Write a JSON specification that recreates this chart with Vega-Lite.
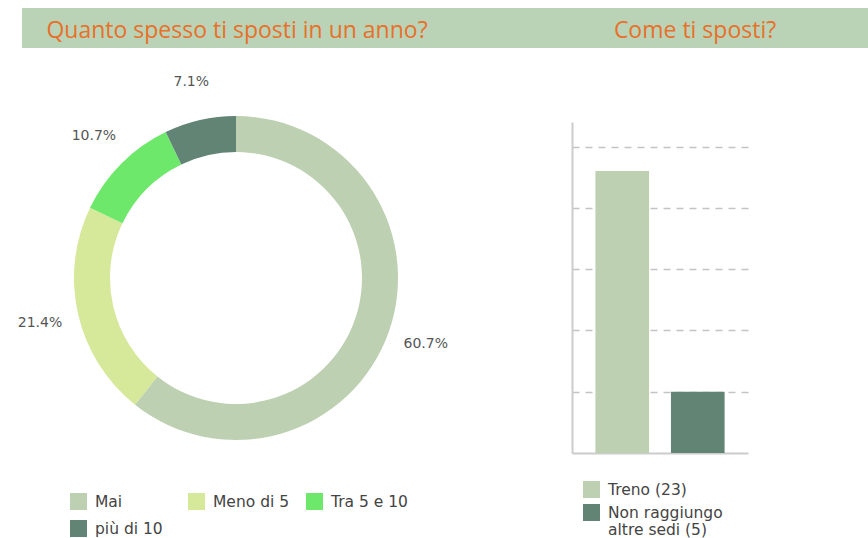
{
  "$schema": "https://vega.github.io/schema/vega-lite/v6.json",
  "padding": {"left": 17, "top": 8, "right": 0, "bottom": 0},
  "background": "white",
  "config": {
    "view": {"stroke": null},
    "font": "DejaVu Sans",
    "legend": {
      "symbolType": "square",
      "symbolSize": 289,
      "symbolStrokeWidth": 0,
      "symbolOpacity": 1,
      "labelFontSize": 15.5,
      "labelFont": "DejaVu Sans",
      "labelColor": "#444444",
      "labelOffset": 8,
      "title": null
    }
  },
  "spacing": 0,
  "vconcat": [
    {
      "width": 846,
      "height": 40,
      "view": {"fill": "#bad3b6", "stroke": null},
      "data": {"values": [
        {"title": "Quanto spesso ti sposti in un anno?"},
        {"title": "Come ti sposti?"}
      ]},
      "mark": {"type": "text", "fontSize": 23, "color": "#e8702a", "font": "Open Sans", "baseline": "middle", "dy": 3},
      "encoding": {
        "x": {"field": "title", "type": "nominal", "sort": null, "axis": null,
              "scale": {"type": "point", "padding": 0, "domain": ["Quanto spesso ti sposti in un anno?", "Come ti sposti?"], "range": [215, 673]}},
        "text": {"field": "title"}
      }
    },
    {
      "spacing": 122,
      "resolve": {"scale": {"color": "independent"}, "legend": {"color": "independent"}},
      "hconcat": [
        {
          "width": 428,
          "height": 460,
          "data": {"values": [
            {"cat": "Mai", "n": 17, "pct": "60.7%", "idx": 1},
            {"cat": "Meno di 5", "n": 6, "pct": "21.4%", "idx": 2},
            {"cat": "Tra 5 e 10", "n": 3, "pct": "10.7%", "idx": 3},
            {"cat": "più di 10", "n": 2, "pct": "7.1%", "idx": 4}
          ]},
          "encoding": {
            "theta": {"field": "n", "type": "quantitative", "stack": true},
            "order": {"field": "idx", "type": "quantitative"},
            "color": {"field": "cat", "type": "nominal",
              "scale": {"domain": ["Mai", "Meno di 5", "Tra 5 e 10", "più di 10"],
                        "range": ["#bdd0b1", "#d6e899", "#6de86a", "#628474"]},
              "legend": {"orient": "none", "legendX": 48, "legendY": 445, "direction": "horizontal", "columns": 3, "gridAlign": "all", "columnPadding": 16, "rowPadding": 10}
            }
          },
          "layer": [
            {"mark": {"type": "arc", "innerRadius": 126, "outerRadius": 162}},
            {"mark": {"type": "text", "radius": 201, "fontSize": 14, "font": "DejaVu Sans"},
             "encoding": {"text": {"field": "pct"}, "color": {"value": "#555555"}}}
          ]
        },
        {
          "width": 176,
          "height": 405,
          "data": {"values": [
            {"mode": "Treno (23)", "v": 23},
            {"mode": "Non raggiungo altre sedi (5)", "v": 5}
          ]},
          "mark": {"type": "bar"},
          "encoding": {
            "x": {"field": "mode", "type": "nominal", "sort": null,
                  "scale": {"paddingInner": 0.29, "paddingOuter": 0.31},
                  "axis": {"labels": false, "ticks": false, "title": null, "domainColor": "#cccccc", "domainWidth": 2}},
            "y": {"field": "v", "type": "quantitative",
                  "scale": {"domain": [0, 27], "range": [405, 74], "nice": false},
                  "axis": {"labels": false, "ticks": false, "title": null, "domainColor": "#cccccc", "domainWidth": 2,
                           "values": [5, 10, 15, 20, 25], "grid": true, "gridColor": "#c4c4c4", "gridDash": [7, 6], "gridWidth": 1.5}},
            "color": {"field": "mode", "type": "nominal",
              "scale": {"domain": ["Treno (23)", "Non raggiungo altre sedi (5)"], "range": ["#bdd0b1", "#628474"]},
              "legend": {"orient": "none", "legendX": 11, "legendY": 433, "direction": "vertical", "rowPadding": 6,
                         "labelExpr": "datum.label == 'Non raggiungo altre sedi (5)' ? ['Non raggiungo', 'altre sedi (5)'] : datum.label"}
            }
          }
        }
      ]
    }
  ]
}
